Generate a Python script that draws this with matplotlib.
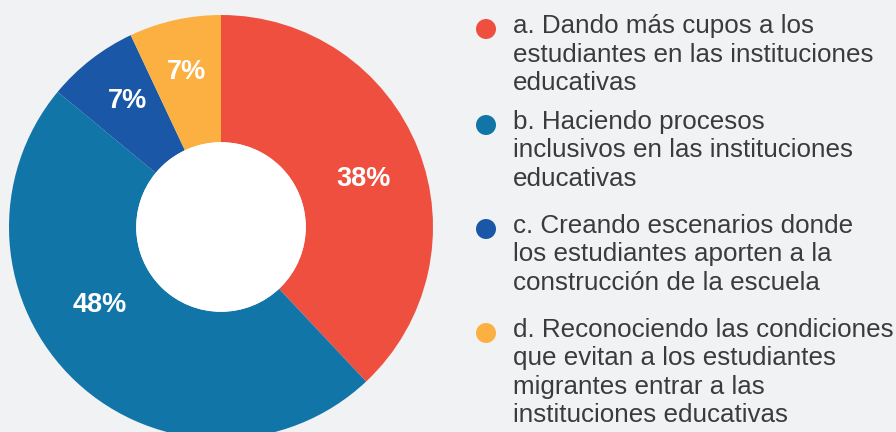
import matplotlib
matplotlib.use("Agg")
import numpy as np
import matplotlib.pyplot as plt
from matplotlib.patches import Circle

# data
labels = [
    "a. Dando más cupos a los\nestudiantes en las instituciones\neducativas",
    "b. Haciendo procesos\ninclusivos en las instituciones\neducativas",
    "c. Creando escenarios donde\nlos estudiantes aporten a la\nconstrucción de la escuela",
    "d. Reconociendo las condiciones\nque evitan a los estudiantes\nmigrantes entrar a las\ninstituciones educativas",
]
values = [38, 48, 7, 7]
colors = ["#EF4F3F", "#1175A8", "#1A57A6", "#FCB042"]

bg = "#F1F2F4"
text_col = "#3A3B3D"
plt.rcParams['font.family'] = ['Liberation Sans', 'DejaVu Sans']

fig = plt.figure(figsize=(8.96, 4.32), dpi=100, facecolor=bg)

# donut: center ~ (221, 227) px, radius ~212 px
ax = fig.add_axes([9 / 896, (432 - 439) / 432, 424 / 896, 424 / 432])
ax.set_facecolor(bg)
wedges, texts, autotexts = ax.pie(
    values, colors=colors, startangle=90, counterclock=False,
    radius=1.0, autopct=lambda p: f"{p:.0f}%", pctdistance=0.72,
    wedgeprops=dict(width=0.6, linewidth=0),
    textprops=dict(color="white", fontsize=19.5, fontweight="bold"))
ax.add_patch(Circle((0, 0), 0.4, facecolor="white", edgecolor="none", zorder=5))

# nudge percentage labels (angle shift clockwise in deg, radius)
label_adj = [(3, 0.71), (14, 0.68), (1, 0.74), (0, 0.75)]
for w, t, (dth, r) in zip(wedges, autotexts, label_adj):
    mid = np.deg2rad((w.theta1 + w.theta2) / 2 - dth)
    t.set_position((r * np.cos(mid), r * np.sin(mid)))

ax.set_xlim(-1, 1)
ax.set_ylim(-1, 1)
ax.set_aspect("equal")
ax.axis("off")

# legend, drawn by hand
dot_x = 486
txt_x = 513
first_baselines = [33, 129, 233, 337]   # px from top
line_px = 28.5
for lab, col, yb in zip(labels, colors, first_baselines):
    for i, line in enumerate(lab.split("\n")):
        fig.text(txt_x / 896, 1 - (yb + i * line_px) / 432, line, fontsize=18.7,
                 color=text_col, va="baseline", ha="left")
    fig.patches.append(Circle((dot_x, 432 - (yb - 4)), 10,
                              transform=None, facecolor=col, edgecolor="none",
                              figure=fig))

fig.savefig("out.png", dpi=100, facecolor=bg)
